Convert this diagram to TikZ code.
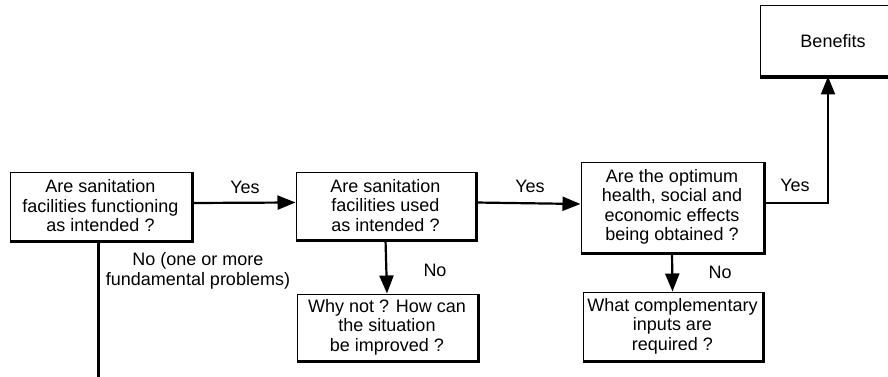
\documentclass[tikz,border=0pt]{standalone}
\usepackage{fontspec}
\setmainfont{Liberation Sans}
\usetikzlibrary{arrows.meta}
\newcommand{\boxshade}[1]{%
  \draw[shadeline] ([xshift=2pt,yshift=-1.2pt]#1.south west) -- ([xshift=1.2pt,yshift=-1.2pt]#1.south east)
    -- ([xshift=1.2pt,yshift=-2pt]#1.north east);}
\begin{document}
\begin{tikzpicture}[x=1pt,y=-1pt,
  box/.style={draw, line width=1pt, fill=white, align=center, inner sep=0pt,
    font=\fontsize{18}{19.5}\selectfont},
  shadeline/.style={line width=2.6pt, line cap=rect},
  lbl/.style={font=\fontsize{18}{19.5}\selectfont, inner sep=0pt, align=center},
  conn/.style={line width=2.2pt, -{Triangle[length=18pt,width=14pt]}},
  plain/.style={line width=3pt},
]
\useasboundingbox (0,0) rectangle (888,377);

\node[box, minimum width=181pt, minimum height=68pt] (b1) at (100.5,206)
  {Are sanitation\\facilities functioning\\as intended ?};
\node[box, minimum width=179pt, minimum height=67pt] (b2) at (385.5,205.5)
  {Are sanitation\\facilities used\\as intended ?};
\node[box, minimum width=180pt, minimum height=66pt] (b3) at (387,327)
  {Why not ? How can\\the situation\\be improved ?};
\node[box, minimum width=182pt, minimum height=90pt] (b4) at (672,207)
  {Are the optimum\\health, social and\\economic effects\\being obtained ?};
\node[box, minimum width=179pt, minimum height=68pt] (b5) at (672.5,326)
  {What complementary\\inputs are\\required ?};
\node[box, minimum width=146pt, minimum height=70pt] (b6) at (833,41)
  {Benefits};
\boxshade{b1}
\boxshade{b2}
\boxshade{b3}
\boxshade{b4}
\boxshade{b5}
\boxshade{b6}

\coordinate (c1) at (828,203);
\coordinate (e1) at (98,380);

\draw[conn] ([yshift=3pt]b1.east) -- ([yshift=3pt]b2.west);
\draw[conn] ([yshift=3pt]b2.east) -- ([yshift=3pt]b4.west);
\draw[conn] (b2.south) -- (b3.north);
\draw[conn] (b4.south) -- (b5.north);
\draw[conn] ([yshift=4pt]b4.east) -- (c1) -- (c1 |- b6.south);
\draw[plain] (b1.south -| e1) -- (e1);

\node[lbl] (y1) at (245,187) {Yes};
\node[lbl] (y2) at (530,186) {Yes};
\node[lbl] (y3) at (795,185) {Yes};
\node[lbl] (n1) at (435,270) {No};
\node[lbl] (n2) at (720,272) {No};
\node[lbl] (n3) at (198,271) {No (one or more\\fundamental problems)};
\end{tikzpicture}
\end{document}
